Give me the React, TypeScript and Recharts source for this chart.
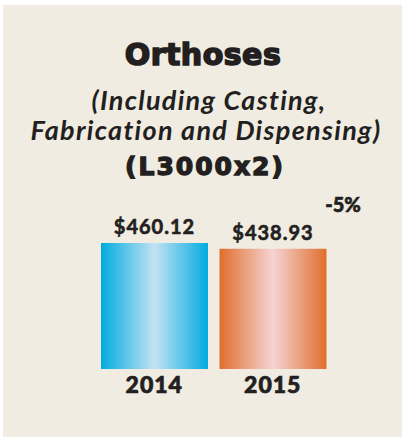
import React from 'react';
import { BarChart, Bar, XAxis, YAxis, Cell, LabelList } from 'recharts';

const years = ['2014', '2015'];
const amounts = [460.12, 438.93];
const amountLabels = ['$460.12', '$438.93'];
const changeLabel = '-5%';
const titleLines = ['Orthoses', '(Including Casting,', 'Fabrication and Dispensing)', '(L3000x2)'];

const data = years.map((year, i) => ({ year, amount: amounts[i], label: amountLabels[i] }));
const fills = ['url(#blueGrad)', 'url(#orangeGrad)'];

const INK = '#231f20';
const BG = '#f0ece2';
const HEAVY = '"DejaVu Sans", sans-serif';
const ITAL = 'Lato, sans-serif';

const ValueLabel = (props: any) => {
  const { x, y, width, index } = props;
  return (
    <text
      x={x + width / 2}
      y={y - 9}
      textAnchor="middle"
      fill={INK}
      stroke={INK}
      strokeWidth={0.6}
      fontFamily={ITAL}
      fontWeight={700}
      fontSize={20}
      letterSpacing={1}
    >
      {amountLabels[index]}
    </text>
  );
};

const YearTick = (props: any) => {
  const { x, y, payload } = props;
  return (
    <text
      x={x}
      y={y}
      dy={16}
      textAnchor="middle"
      fill={INK}
      stroke={INK}
      strokeWidth={0.7}
      fontFamily={ITAL}
      fontWeight={900}
      fontSize={23}
      letterSpacing={1}
    >
      {payload.value}
    </text>
  );
};

export default function App() {
  return (
    <div style={{ position: 'absolute', left: 0, top: 0, width: 402, height: 437, background: '#fff' }}>
      <div style={{ position: 'absolute', left: 3, top: 5, right: 0, bottom: 0, background: BG }} />
      <div style={{ position: 'absolute', left: 0, top: 0 }}>
        <BarChart width={402} height={437} data={data} margin={{ top: 232, right: 70, bottom: 38, left: 95 }}>
          <defs>
            <linearGradient id="blueGrad" x1="0" y1="0" x2="1" y2="0">
              <stop offset="0%" stopColor="#00abe0" />
              <stop offset="50%" stopColor="#c4e2f3" />
              <stop offset="100%" stopColor="#00abe0" />
            </linearGradient>
            <linearGradient id="orangeGrad" x1="0" y1="0" x2="1" y2="0">
              <stop offset="0%" stopColor="#e06e2c" />
              <stop offset="50%" stopColor="#f5d4d4" />
              <stop offset="100%" stopColor="#e06e2c" />
            </linearGradient>
          </defs>
          <YAxis hide domain={[0, 500]} />
          <XAxis dataKey="year" axisLine={false} tickLine={false} height={30} tick={<YearTick />} interval={0} />
          <Bar dataKey="amount" barSize={107} isAnimationActive={false}>
            {data.map((d, i) => (
              <Cell key={d.year} fill={fills[i]} />
            ))}
            <LabelList dataKey="label" content={<ValueLabel />} />
          </Bar>
        </BarChart>
      </div>
      <svg width={402} height={437} style={{ position: 'absolute', left: 0, top: 0, pointerEvents: 'none' }}>
        <text x={203} y={65} textAnchor="middle" fill={INK} stroke={INK} strokeWidth={1.6} fontFamily={HEAVY} fontWeight={700} fontSize={30} letterSpacing={0.5}>
          {titleLines[0]}
        </text>
        <text x={209} y={110} textAnchor="middle" fill={INK} fontFamily={ITAL} fontStyle="italic" fontWeight={700} fontSize={27} letterSpacing={1.3}>
          {titleLines[1]}
        </text>
        <text x={206} y={140} textAnchor="middle" fill={INK} fontFamily={ITAL} fontStyle="italic" fontWeight={700} fontSize={27} letterSpacing={1.3}>
          {titleLines[2]}
        </text>
        <text x={205} y={175} textAnchor="middle" fill={INK} stroke={INK} strokeWidth={1.4} fontFamily={HEAVY} fontWeight={700} fontSize={25} letterSpacing={2}>
          {titleLines[3]}
        </text>
        <text x={343} y={212} textAnchor="middle" fill={INK} stroke={INK} strokeWidth={0.6} fontFamily={ITAL} fontWeight={900} fontSize={20}>
          {changeLabel}
        </text>
      </svg>
    </div>
  );
}
